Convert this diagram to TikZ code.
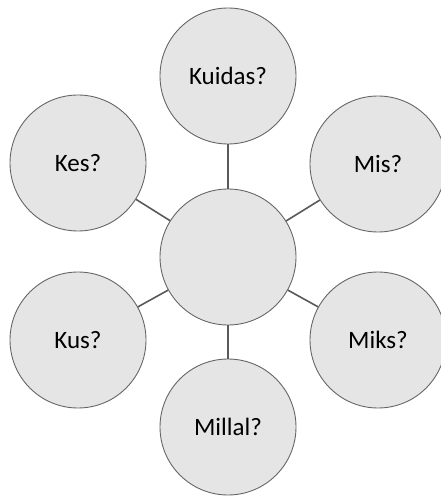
\documentclass[tikz,border=0pt]{standalone}
\usepackage{fontspec}
\setmainfont{Carlito}
\begin{document}
\begin{tikzpicture}[x=1pt,y=-1pt,
  bubble/.style={circle,draw=black!60,line width=0.9pt,fill=black!10,minimum size=136pt,inner sep=0pt,font=\fontsize{25}{29}\selectfont},
  link/.style={draw=black!65,line width=1.6pt}]
\useasboundingbox (0,0) rectangle (440,497);
\node[bubble] (c) at (228,257) {};
\node[bubble] (t) at (228,76) {Kuidas?};
\node[bubble] (b) at (228,427) {Millal?};
\node[bubble] (lu) at (78,163) {Kes?};
\node[bubble] (ru) at (378,164) {Mis?};
\node[bubble] (ld) at (78,340) {Kus?};
\node[bubble] (rd) at (378,340) {Miks?};
\foreach \n in {t,b,lu,ru,ld,rd} \draw[link] (c) -- (\n);
\end{tikzpicture}
\end{document}
